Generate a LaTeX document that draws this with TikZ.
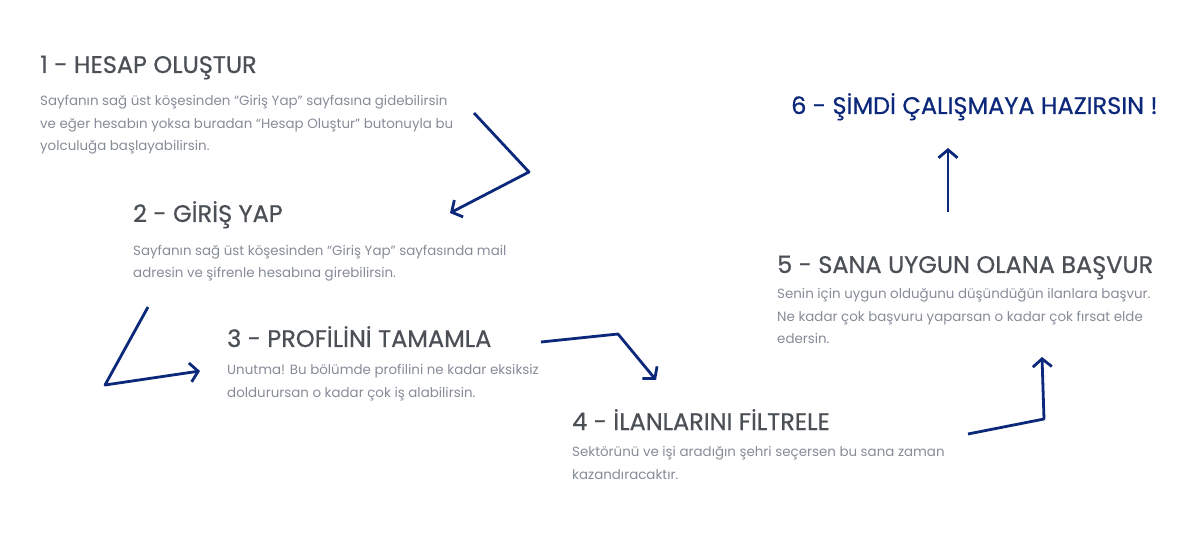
\documentclass[tikz,border=0pt]{standalone}
\usepackage{fontspec}
\setmainfont{Poppins}
\newfontfamily\headfont{Poppins}[FakeBold=0.6]
\usetikzlibrary{arrows.meta}
\definecolor{navy}{RGB}{12,40,122}
\definecolor{headgray}{RGB}{75,79,86}
\definecolor{bodygray}{RGB}{134,140,152}
\tikzset{
  head/.style={anchor=base west, inner sep=0pt, text=headgray, font=\headfont\fontsize{24}{28}\selectfont},
  body/.style={anchor=base west, inner sep=0pt, text=bodygray, align=left, font=\fontsize{13.4}{22.8}\selectfont},
  flow/.style={draw=navy, line width=2.8pt, line join=round, -{Straight Barb[length=8pt,width=19pt]}},
}
\begin{document}
\begin{tikzpicture}[x=1pt,y=-1pt]
\useasboundingbox[fill=white] (0,0) rectangle (1191,534);
% headings and texts (body nodes are placed by the baseline of their last line)
\node[head] (h1) at (40,73) {1 - HESAP OLUŞTUR};
\node[body] (b1) at (40,151) {Sayfanın sağ üst köşesinden “Giriş Yap” sayfasına gidebilirsin\\ve eğer hesabın yoksa buradan “Hesap Oluştur” butonuyla bu\\yolculuğa başlayabilirsin.};
\node[head] (h2) at (133,222) {2 - GİRİŞ YAP};
\node[body] (b2) at (133,278) {Sayfanın sağ üst köşesinden “Giriş Yap” sayfasında mail\\adresin ve şifrenle hesabına girebilirsin.};
\node[head] (h3) at (227,347) {3 - PROFİLİNİ TAMAMLA};
\node[body] (b3) at (227,397) {Unutma! Bu bölümde profilini ne kadar eksiksiz\\doldurursan o kadar çok iş alabilirsin.};
\node[head] (h4) at (572,430) {4 - İLANLARINI FİLTRELE};
\node[body] (b4) at (572,479) {Sektörünü ve işi aradığın şehri seçersen bu sana zaman\\kazandıracaktır.};
\node[head] (h5) at (777,273) {5 - SANA UYGUN OLANA BAŞVUR};
\node[body] (b5) at (777,344) {Senin için uygun olduğunu düşündüğün ilanlara başvur.\\Ne kadar çok başvuru yaparsan o kadar çok fırsat elde\\edersin.};
\node[head, text=navy] (h6) at (791,114) {6 - ŞİMDİ ÇALIŞMAYA HAZIRSIN !};
% arrow coordinates
\coordinate (a1s) at (474,113); \coordinate (a1c) at (529,172); \coordinate (a1e) at (450,213);
\coordinate (a2s) at (148,307); \coordinate (a2c) at (105,385); \coordinate (a2e) at (200,371);
\coordinate (a3s) at (541,342); \coordinate (a3c) at (618,334); \coordinate (a3e) at (656,380);
\coordinate (a4s) at (968,434); \coordinate (a4c) at (1044,419); \coordinate (a4e) at (1042,357);
\coordinate (a5s) at (948,212); \coordinate (a5e) at (948,148);
\draw[flow] (a1s) -- (a1c) -- (a1e);
\draw[flow] (a2s) -- (a2c) -- (a2e);
\draw[flow] (a3s) -- (a3c) -- (a3e);
\draw[flow] (a4s) -- (a4c) -- (a4e);
\draw[flow] (a5s) -- (a5e);
\end{tikzpicture}
\end{document}
